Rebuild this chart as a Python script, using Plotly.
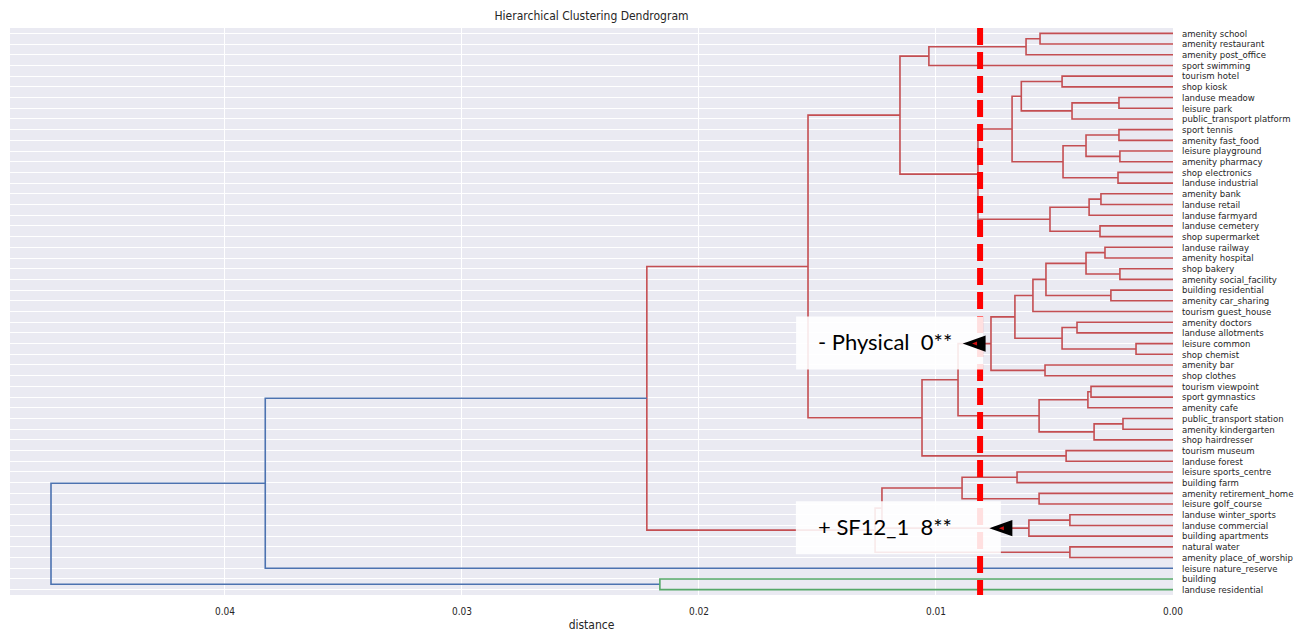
import plotly.graph_objects as go

# Leaf labels, in display order (top to bottom)
leaf_labels = [
    "amenity school", "amenity restaurant", "amenity post_office", "sport swimming",
    "tourism hotel", "shop kiosk", "landuse meadow", "leisure park",
    "public_transport platform", "sport tennis", "amenity fast_food",
    "leisure playground", "amenity pharmacy", "shop electronics",
    "landuse industrial", "amenity bank", "landuse retail", "landuse farmyard",
    "landuse cemetery", "shop supermarket", "landuse railway", "amenity hospital",
    "shop bakery", "amenity social_facility", "building residential",
    "amenity car_sharing", "tourism guest_house", "amenity doctors",
    "landuse allotments", "leisure common", "shop chemist", "amenity bar",
    "shop clothes", "tourism viewpoint", "sport gymnastics", "amenity cafe",
    "public_transport station", "amenity kindergarten", "shop hairdresser",
    "tourism museum", "landuse forest", "leisure sports_centre", "building farm",
    "amenity retirement_home", "leisure golf_course", "landuse winter_sports",
    "landuse commercial", "building apartments", "natural water",
    "amenity place_of_worship", "leisure nature_reserve", "building",
    "landuse residential",
]

# Linkage: merge k joins link_a[k] and link_b[k] at link_dist[k];
# ids < n_leaves are leaves, id n_leaves + k is the cluster made by merge k.
link_a = [0, 53, 54, 4, 6, 57, 56, 9, 11, 60, 13, 62, 59, 15, 66, 18, 67, 65,
          55, 20, 22, 72, 24, 74, 76, 27, 29, 78, 77, 31, 81, 33, 84, 36, 86,
          85, 83, 39, 89, 71, 41, 43, 93, 45, 96, 95, 48, 98, 92, 101, 51, 102]
link_b = [1, 2, 3, 5, 7, 8, 58, 10, 12, 61, 14, 63, 64, 16, 17, 19, 68, 69,
          70, 21, 23, 73, 25, 75, 26, 28, 30, 79, 80, 32, 82, 34, 35, 37, 38,
          87, 88, 40, 90, 91, 42, 44, 94, 46, 47, 97, 49, 99, 100, 50, 52, 103]
link_dist = [0.00561, 0.00620, 0.01030, 0.00468, 0.00228, 0.00426, 0.00640,
             0.00228, 0.00224, 0.00367, 0.00232, 0.00464, 0.00679, 0.00304,
             0.00354, 0.00308, 0.00519, 0.00823, 0.01152, 0.00287, 0.00224,
             0.00367, 0.00262, 0.00536, 0.00591, 0.00405, 0.00156, 0.00468,
             0.00667, 0.00540, 0.00768, 0.00346, 0.00359, 0.00211, 0.00333,
             0.00565, 0.00907, 0.00451, 0.01059, 0.01540, 0.00658, 0.00565,
             0.00890, 0.00435, 0.00608, 0.01228, 0.00435, 0.01257, 0.02220,
             0.03830, 0.02165, 0.04734]

color_threshold = 0.0225
cluster_colors = ["#C44E52", "#55A868"]
above_color = "#4C72B0"
cut_distance = 0.00814

# Annotated clusters: (text, merge index, arrow tip distance)
notes = [("- Physical  0**", 30, 0.00873),
         ("+ SF12_1  8**", 44, 0.00760)]

n_leaves = len(leaf_labels)
leaf_y = [5 + 10 * i for i in range(n_leaves)]

# Positions of every node (leaf or merge)
node_y = {i: leaf_y[i] for i in range(n_leaves)}
node_d = {i: 0.0 for i in range(n_leaves)}
for k, (a, b, d) in enumerate(zip(link_a, link_b, link_dist)):
    node_y[n_leaves + k] = (node_y[a] + node_y[b]) / 2
    node_d[n_leaves + k] = d

# Colour assignment: each top-level cluster below the threshold gets its own colour
link_color = [above_color] * len(link_dist)
children = {n_leaves + k: (a, b) for k, (a, b) in enumerate(zip(link_a, link_b))}


def paint(node, color):
    if node < n_leaves:
        return
    link_color[node - n_leaves] = color
    for c in children[node]:
        paint(c, color)


roots = []


def find_clusters(node):
    if node < n_leaves:
        return
    if node_d[node] < color_threshold:
        roots.append(node)
        return
    for c in children[node]:
        find_clusters(c)


find_clusters(n_leaves + len(link_dist) - 1)
roots.sort(key=lambda r: node_y[r])
for i, r in enumerate(roots):
    paint(r, cluster_colors[i % len(cluster_colors)])

# Build one polyline per colour
segments = {}
for k, (a, b, d) in enumerate(zip(link_a, link_b, link_dist)):
    xs = [node_d[a], d, d, node_d[b], None]
    ys = [node_y[a], node_y[a], node_y[b], node_y[b], None]
    sx, sy = segments.setdefault(link_color[k], ([], []))
    sx.extend(xs)
    sy.extend(ys)

fig = go.Figure()
for color, (sx, sy) in segments.items():
    fig.add_trace(go.Scatter(x=sx, y=sy, mode="lines",
                             line=dict(color=color, width=1.6),
                             hoverinfo="skip", showlegend=False))

# Cut line
fig.add_shape(type="line", xref="x", yref="paper", x0=cut_distance, x1=cut_distance,
              y0=1, y1=0, line=dict(color="#FF0000", width=6, dash="17px,7px"),
              layer="above")

for i, (text, k, tip) in enumerate(notes):
    ny = node_y[n_leaves + k]
    left = -170 if i == 0 else -197
    box_w = 187 if i == 0 else 205
    # text box
    fig.add_shape(type="rect", xref="x", yref="y", xsizemode="pixel", ysizemode="pixel",
                  xanchor=tip, yanchor=ny,
                  x0=left, x1=left + box_w, y0=-26, y1=27,
                  fillcolor="rgba(255,255,255,0.88)", line=dict(width=0), layer="above")
    fig.add_annotation(x=tip, y=ny, xref="x", yref="y", text=text, showarrow=False,
                       xanchor="left", yanchor="middle",
                       xshift=left + 20, yshift=2,
                       font=dict(family="Lato, Open Sans, sans-serif", size=22, color="#000000"))
    # arrow head
    fig.add_shape(type="path", xref="x", yref="y", xsizemode="pixel", ysizemode="pixel",
                  xanchor=tip, yanchor=ny,
                  path="M 1,0 L 18,6 L 18,-6 Z",
                  fillcolor="#000000", line=dict(color="#000000", width=3), layer="above")
    fig.add_shape(type="path", xref="x", yref="y", xsizemode="pixel", ysizemode="pixel",
                  xanchor=tip, yanchor=ny,
                  path="M 6,0 L 11,2 L 11,-2 Z",
                  fillcolor="#D01010", line=dict(color="#D01010", width=0), layer="above")

label_font = "DejaVu Sans Condensed, Liberation Sans Narrow, DejaVu Sans, sans-serif"
fig.update_layout(
    width=1304, height=632,
    margin=dict(l=10, r=131, t=28, b=37),
    paper_bgcolor="#FFFFFF", plot_bgcolor="#EAEAF2",
    title=dict(text="Hierarchical Clustering Dendrogram", x=(10 + 1173) / 2 / 1304,
               xanchor="center", y=1 - 16 / 632, yanchor="middle",
               font=dict(family=label_font, size=12, color="#262626")),
    xaxis=dict(range=[0.04907, 0], tickvals=[0.04, 0.03, 0.02, 0.01, 0.0],
               ticktext=["0.04", "0.03", "0.02", "0.01", "0.00"],
               showgrid=True, gridcolor="#FFFFFF", gridwidth=1, zeroline=False,
               showline=False, ticks="", ticklabelstandoff=9, automargin=False,
               tickfont=dict(family=label_font, size=10, color="#262626"),
               title=dict(text="distance", standoff=4,
                          font=dict(family=label_font, size=12, color="#262626"))),
    yaxis=dict(range=[530, 0], tickvals=leaf_y, ticktext=leaf_labels, side="right",
               showgrid=True, gridcolor="#FFFFFF", gridwidth=1, zeroline=False,
               showline=False, ticks="", ticklabelstandoff=8, automargin=False,
               tickfont=dict(family=label_font, size=9.5, color="#262626")),
)

fig.write_html("out.html")
